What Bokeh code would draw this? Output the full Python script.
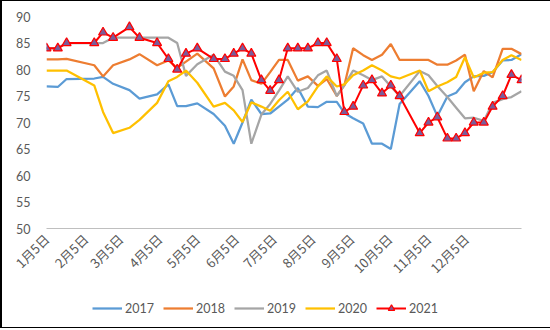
import numpy as np
from bokeh.plotting import figure
from bokeh.layouts import column
from bokeh.models import Range1d, FixedTicker, Legend, LegendItem
from bokeh.embed import file_html
from bokeh.resources import INLINE

# x tick labels (5th of each month) and their day offsets from 1月5日
tick_labels = ["1月5日", "2月5日", "3月5日", "4月5日", "5月5日", "6月5日",
               "7月5日", "8月5日", "9月5日", "10月5日", "11月5日", "12月5日"]
tick_days = [0, 31, 59, 90, 120, 151, 181, 212, 243, 273, 304, 334]

# observation dates (day offsets from 1月5日), shared by all series
days = [0, 9, 16, 38, 45, 53, 66, 74, 88, 97,
        104, 111, 120, 133, 142, 149, 156, 163, 171, 178,
        185, 192, 200, 208, 216, 223, 231, 237, 244, 252,
        259, 267, 274, 281, 297, 304, 311, 319, 326, 333,
        340, 348, 355, 363, 370, 378]

s2017 = [76.8, 76.7, 78.2, 78.3, 78.6, 77.3, 76.1, 74.5, 75.3, 77.2,
         73.1, 73.1, 73.6, 71.6, 69.4, 66.0, 70.0, 74.3, 71.6, 71.7,
         73.0, 74.3, 76.5, 73.0, 72.9, 73.9, 73.9, 71.8, 70.8, 69.8,
         66.0, 66.0, 65.0, 73.5, 77.8, 75.0, 71.2, 74.9, 75.6, 77.6,
         78.7, 78.8, 79.5, 81.7, 81.8, 82.9]
s2018 = [81.9, 81.9, 82.0, 80.8, 78.7, 80.8, 81.9, 82.9, 80.8, 81.7,
         80.3, 81.5, 83.0, 80.2, 74.9, 76.8, 81.9, 78.0, 77.3, 79.5,
         81.8, 81.8, 77.9, 78.7, 76.9, 78.2, 75.0, 77.0, 84.0, 82.7,
         81.8, 82.8, 84.8, 81.8, 81.8, 81.8, 80.9, 80.9, 81.7, 82.8,
         75.9, 79.7, 78.5, 83.9, 83.9, 82.9]
s2019 = [84.0, 84.0, 85.0, 85.0, 85.0, 86.0, 86.0, 86.0, 86.0, 86.0,
         85.0, 78.8, 81.0, 82.8, 79.6, 78.8, 76.1, 66.0, 71.5, 73.5,
         76.0, 78.7, 75.8, 76.5, 78.9, 79.8, 75.0, 77.0, 79.8, 78.9,
         78.0, 78.7, 76.8, 75.0, 79.7, 78.9, 76.9, 74.8, 72.8, 70.8,
         70.9, 70.3, 73.7, 74.4, 74.8, 75.9]
s2020 = [79.8, 79.8, 79.8, 77.0, 72.0, 68.0, 69.0, 70.5, 73.7, 77.8,
         78.6, 79.8, 77.5, 73.0, 73.7, 72.3, 70.1, 73.8, 73.0, 72.2,
         74.2, 75.8, 72.5, 74.0, 76.8, 78.7, 76.8, 77.2, 78.9, 79.8,
         80.8, 79.8, 78.7, 78.3, 79.8, 75.9, 76.8, 77.6, 78.6, 82.3,
         78.5, 79.4, 79.5, 81.8, 82.7, 81.8]
s2021 = [84, 84, 85, 85, 87, 86, 88, 86, 85, 82,
         80, 83, 84, 82, 82, 83, 84, 83, 78, 76,
         78, 84, 84, 84, 85, 85, 82, 72, 73, 77,
         78, 75.5, 77, 75, 68, 70, 71, 67, 67, 68,
         70, 70, 73, 75, 79, 78]

y_ticks = [50, 55, 60, 65, 70, 75, 80, 85, 90]

colors = {"2017": "#5B9BD5", "2018": "#ED7D31", "2019": "#A5A5A5", "2020": "#FFC000"}
series = {"2017": s2017, "2018": s2018, "2019": s2019, "2020": s2020}
red = "#FF0000"
marker_fill = "#7A5C9A"

# ---- main chart ----
p = figure(width=548, height=285, output_backend="svg", toolbar_location=None,
           x_range=Range1d(0, 378), y_range=Range1d(50, 90),
           min_border_left=44, min_border_right=29, min_border_top=15,
           min_border_bottom=57)
p.outline_line_color = None
p.xgrid.visible = False
p.ygrid.visible = False

p.yaxis.ticker = FixedTicker(ticks=y_ticks)
p.yaxis.axis_line_color = None
p.yaxis.major_tick_line_color = None
p.yaxis.minor_tick_line_color = None
p.yaxis.major_tick_out = 0
p.yaxis.major_tick_in = 0
p.yaxis.major_label_text_font = "Lato"
p.yaxis.major_label_text_font_size = "12.5px"
p.yaxis.major_label_text_color = "#595959"
p.yaxis.major_label_standoff = 16

p.xaxis.ticker = FixedTicker(ticks=tick_days)
p.xaxis.major_label_overrides = {d: l for d, l in zip(tick_days, tick_labels)}
p.xaxis.major_label_orientation = np.pi / 4
p.xaxis.axis_line_color = "#bfbfbf"
p.xaxis.axis_line_width = 1
p.xaxis.major_tick_line_color = None
p.xaxis.minor_tick_line_color = None
p.xaxis.major_tick_out = 0
p.xaxis.major_tick_in = 0
p.xaxis.major_label_text_font = "Noto Sans CJK SC"
p.xaxis.major_label_text_font_size = "13px"
p.xaxis.major_label_text_color = "#595959"
p.xaxis.major_label_standoff = 8

for name, vals in series.items():
    p.line(days, vals, line_color=colors[name], line_width=2.25)
p.line(days, s2021, line_color=red, line_width=2)
p.scatter(days, s2021, marker="triangle", size=9, fill_color=marker_fill,
          line_color=red, line_width=1.2)

# ---- legend strip: same series drawn outside its (0..1) ranges, so only the legend shows ----
lf = figure(width=548, height=41, output_backend="svg", toolbar_location=None,
            x_range=Range1d(0, 1), y_range=Range1d(0, 1),
            x_axis_type=None, y_axis_type=None, min_border=0)
lf.outline_line_color = None
lf.xgrid.visible = False
lf.ygrid.visible = False
items = []
for name, vals in series.items():
    r = lf.line(days, vals, line_color=colors[name], line_width=2.25)
    items.append(LegendItem(label=name, renderers=[r]))
rl = lf.line(days, s2021, line_color=red, line_width=2)
rs = lf.scatter(days, s2021, marker="triangle", size=9, fill_color=marker_fill,
                line_color=red, line_width=1.2)
items.append(LegendItem(label="2021", renderers=[rl, rs]))
legend = Legend(items=items, orientation="horizontal", location=(46, 11),
                border_line_color=None, background_fill_alpha=0, padding=0, margin=0,
                spacing=9, glyph_width=30, glyph_height=16, label_standoff=3,
                label_text_font="Lato", label_text_font_size="12.5px",
                label_text_color="#595959", label_height=16)
lf.add_layout(legend)

layout = column(p, lf, spacing=0,
                styles={"border-left": "2px solid #000", "border-top": "1px solid #000",
                        "border-bottom": "1px solid #000"})

open("out.html", "w").write(file_html(layout, INLINE))
